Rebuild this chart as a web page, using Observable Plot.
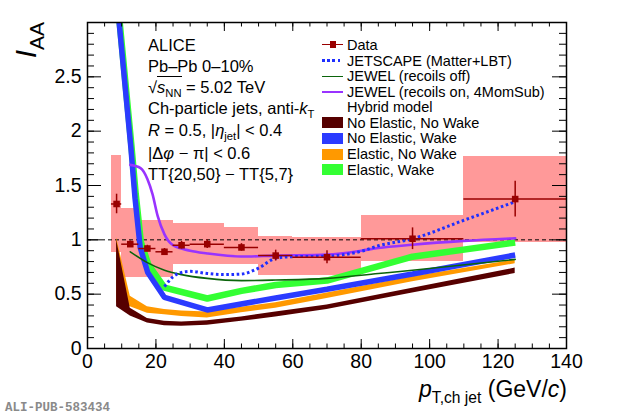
<!DOCTYPE html>
<html><head><meta charset="utf-8">
<script src="https://cdn.jsdelivr.net/npm/d3@7"></script>
<script src="https://cdn.jsdelivr.net/npm/@observablehq/plot@0.6"></script>
<style>
body{margin:0;background:#fff;}
#wrap{position:relative;width:620px;height:417px;overflow:hidden;font-family:"Liberation Sans",Arial,Helvetica,sans-serif;color:#000;}
#wrap svg{position:absolute;left:0;top:0;}
.t{position:absolute;white-space:nowrap;height:20px;line-height:20px;font-size:16.5px;left:148px;}
.lg{position:absolute;white-space:nowrap;height:16px;line-height:16px;font-size:14.5px;left:347px;}
.sw{position:absolute;left:322px;width:21px;}
.sub{font-size:0.68em;position:relative;top:0.38em;}
</style></head><body><div id="wrap"></div>
<script>
// ---- data: ALICE I_AA vs pT,ch jet ----
const binLo   = [7, 10, 15, 20, 25, 30, 40, 50, 60, 80, 110];
const binHi   = [10, 15, 20, 25, 30, 40, 50, 60, 80, 110, 140];
const ptCenter= [8.5, 12.5, 17.5, 22.5, 27.5, 35, 45, 55, 70, 95, 125];
const iaa     = [1.33, 0.96, 0.92, 0.89, 0.95, 0.96, 0.93, 0.855, 0.84, 1.01, 1.375];
const statErr = [0.09, 0.03, 0.03, 0.03, 0.035, 0.04, 0.035, 0.05, 0.06, 0.1, 0.165];
const systLo  = [0.88, 0.65, 0.65, 0.65, 0.77, 0.77, 0.77, 0.67, 0.67, 0.80, 0.98];
const systHi  = [1.775, 1.285, 1.18, 1.18, 1.15, 1.15, 1.11, 1.035, 1.02, 1.22, 1.77];

// Hybrid model bands
const hybX    = [8.5, 12.5, 17.5, 22.5, 27.5, 35, 45, 55, 70, 95, 125];
const nenwLo  = [0.385, 0.30, 0.235, 0.21, 0.205, 0.215, 0.25, 0.29, 0.36, 0.51, 0.69];
const nenwHi  = [1.00, 0.37, 0.275, 0.25, 0.245, 0.255, 0.29, 0.335, 0.40, 0.555, 0.74];
const enwLo   = [0.42, 0.385, 0.325, 0.31, 0.295, 0.28, 0.33, 0.37, 0.46, 0.615, 0.78];
const enwHi   = [1.02, 0.48, 0.385, 0.36, 0.345, 0.335, 0.38, 0.42, 0.51, 0.66, 0.815];
const newX    = [8.5, 12.7, 13.9, 15.4, 17.6, 22.5, 35, 55, 70, 95, 125];
const newY    = [3.25, 1.84, 1.38, 0.93, 0.70, 0.47, 0.355, 0.465, 0.545, 0.685, 0.86];
const ewX     = [8.5, 12.8, 14.1, 15.6, 17.8, 22.5, 35, 45, 55, 70, 95, 125];
const ewY     = [3.3, 1.88, 1.42, 0.98, 0.77, 0.56, 0.46, 0.53, 0.585, 0.625, 0.845, 0.975];

// JEWEL / JETSCAPE curves
const jOffX = [12.5, 17.5, 22.5, 27.5, 35, 45, 55, 70, 85, 95, 125];
const jOffY = [0.89, 0.79, 0.72, 0.68, 0.645, 0.625, 0.63, 0.645, 0.69, 0.72, 0.82];
const jOnX  = [12.5, 15.5, 17.5, 19, 20.5, 22.5, 25, 30, 35, 45, 55, 70, 80, 85, 95, 110, 125];
const jOnY  = [1.69, 1.66, 1.56, 1.42, 1.22, 1.05, 0.95, 0.90, 0.875, 0.846, 0.855, 0.865, 0.90, 0.925, 0.955, 0.99, 1.015];
const jsX   = [22.5, 25, 27.5, 30, 35, 40, 45, 50, 55, 60, 70, 80, 85, 95, 110, 125];
const jsY   = [0.57, 0.66, 0.70, 0.71, 0.69, 0.68, 0.685, 0.74, 0.83, 0.845, 0.85, 0.895, 0.945, 1.01, 1.18, 1.35];

// axis ticks
const xMajor = [0, 20, 40, 60, 80, 100, 120, 140];
const xMinor = d3.range(0, 29).map(i => i * 5);
const yMajor = [0, 0.5, 1, 1.5, 2, 2.5];
const yMinor = d3.range(0, 31).map(i => i / 10);

// ---- tables ----
const points = ptCenter.map((x, i) => ({x, y: iaa[i], lo: binLo[i], hi: binHi[i], e: statErr[i], sl: systLo[i], sh: systHi[i]}));
const band = (lo, hi) => hybX.map((x, i) => ({x, lo: lo[i], hi: hi[i]}));
const curve = (xs, ys) => xs.map((x, i) => ({x, y: ys[i]}));

const C = {data: "#990000", pink: "#ff9999", brown: "#560000", blue: "#2b3bff", orange: "#ff9900", green: "#33ff33", jgreen: "#0b640b", purple: "#9933ff", js: "#1f2fff"};

const innerW = 620 - 87 - 54, innerH = 417 - 22 - 69;

const plot = Plot.plot({
  width: 620, height: 417,
  marginLeft: 87, marginRight: 54, marginTop: 22, marginBottom: 69,
  x: {domain: [0, 140], label: null},
  y: {domain: [0, 3], label: null},
  style: {fontFamily: "Liberation Sans, Arial, sans-serif", background: "transparent", overflow: "visible"},
  marks: [
    Plot.rect(points, {x1: "lo", x2: "hi", y1: "sl", y2: "sh", fill: C.pink, shapeRendering: "crispEdges"}),
    Plot.ruleY([1], {stroke: "black", strokeWidth: 1, strokeDasharray: "4,3"}),
    // Hybrid: Elastic, Wake (green)
    Plot.line(curve(ewX, ewY), {x: "x", y: "y", stroke: C.green, strokeWidth: 6.5, strokeLinecap: "butt", strokeLinejoin: "miter", clip: true}),
    // Elastic, No Wake (orange)
    Plot.areaY(band(enwLo, enwHi), {x: "x", y1: "lo", y2: "hi", fill: C.orange, clip: true}),
    // No Elastic, Wake (blue)
    Plot.line(curve(newX, newY), {x: "x", y: "y", stroke: C.blue, strokeWidth: 5.5, strokeLinecap: "butt", strokeLinejoin: "miter", clip: true}),
    // No Elastic, No Wake (brown)
    Plot.areaY(band(nenwLo, nenwHi), {x: "x", y1: "lo", y2: "hi", fill: C.brown, clip: true}),
    // JEWEL
    Plot.line(curve(jOffX, jOffY), {x: "x", y: "y", stroke: C.jgreen, strokeWidth: 1.6, curve: "monotone-x"}),
    Plot.line(curve(jOnX, jOnY), {x: "x", y: "y", stroke: C.purple, strokeWidth: 2.6, curve: "monotone-x"}),
    // JETSCAPE
    Plot.line(curve(jsX, jsY), {x: "x", y: "y", stroke: C.js, strokeWidth: 3, strokeDasharray: "2.6,2.6", strokeLinecap: "butt", curve: "monotone-x"}),
    // data
    Plot.ruleY(points, {y: "y", x1: "lo", x2: "hi", stroke: C.data, strokeWidth: 1.5}),
    Plot.ruleX(points, {x: "x", y1: d => d.y - d.e, y2: d => d.y + d.e, stroke: C.data, strokeWidth: 1.5}),
    Plot.dot(points, {x: "x", y: "y", symbol: "square", r: 3.7, fill: C.data, stroke: null}),
    // ticks (inward, all four sides)
    Plot.tickX(xMajor, {x: d => d, insetTop: innerH - 9, stroke: "black", strokeWidth: 1}),
    Plot.tickX(xMinor, {x: d => d, insetTop: innerH - 4.5, stroke: "black", strokeWidth: 1}),
    Plot.tickX(xMajor, {x: d => d, insetBottom: innerH - 9, stroke: "black", strokeWidth: 1}),
    Plot.tickX(xMinor, {x: d => d, insetBottom: innerH - 4.5, stroke: "black", strokeWidth: 1}),
    Plot.tickY(yMajor, {y: d => d, insetRight: innerW - 14, stroke: "black", strokeWidth: 1}),
    Plot.tickY(yMinor, {y: d => d, insetRight: innerW - 7, stroke: "black", strokeWidth: 1}),
    Plot.tickY(yMajor, {y: d => d, insetLeft: innerW - 14, stroke: "black", strokeWidth: 1}),
    Plot.tickY(yMinor, {y: d => d, insetLeft: innerW - 7, stroke: "black", strokeWidth: 1}),
    Plot.frame({stroke: "black", strokeWidth: 1.5}),
    Plot.axisX(xMajor, {anchor: "bottom", tickSize: 0, tickPadding: 6, fontSize: 19.5, tickFormat: d => String(d), label: null}),
    Plot.axisY(yMajor, {anchor: "left", tickSize: 0, tickPadding: 6, fontSize: 19.5, tickFormat: d => String(d), label: null})
  ]
});

const wrap = document.getElementById("wrap");
wrap.appendChild(plot);

// ---- text overlays ----
const leftLines = [
  [45, "ALICE"],
  [65.5, "Pb–Pb 0–10%"],
  [86.5, '<span>√</span><span style="border-top:1.3px solid #000;padding-top:1px"><i>s</i><span class="sub">NN</span></span> = 5.02 TeV'],
  [108, 'Ch-particle jets, anti-<i>k</i><span class="sub">T</span>'],
  [129.5, '<i>R</i> = 0.5, |<i>η</i><span class="sub">jet</span>| &lt; 0.4'],
  [153, '|Δ<i>φ</i> − π| &lt; 0.6'],
  [174, 'TT{20,50} − TT{5,7}']
];
for (const [yc, html] of leftLines) {
  const d = document.createElement("div");
  d.className = "t"; d.style.top = (yc - 10) + "px"; d.innerHTML = html;
  wrap.appendChild(d);
}

const legend = [
  [44.7, "Data", "data"],
  [60.8, "JETSCAPE (Matter+LBT)", "js"],
  [76.3, "JEWEL (recoils off)", "jgreen"],
  [92, "JEWEL (recoils on, 4MomSub)", "purple"],
  [107.3, "Hybrid model", null],
  [122.5, "No Elastic, No Wake", "brown"],
  [138.3, "No Elastic, Wake", "blue"],
  [154, "Elastic, No Wake", "orange"],
  [169.5, "Elastic, Wake", "green"]
];
for (const [yc, label, key] of legend) {
  const d = document.createElement("div");
  d.className = "lg"; d.style.top = (yc - 8) + "px"; d.textContent = label;
  wrap.appendChild(d);
  if (!key) continue;
  const s = document.createElement("div");
  s.className = "sw";
  if (key === "data") {
    s.style.top = (yc - 0.75) + "px"; s.style.height = "1.5px"; s.style.background = C.data;
    const m = document.createElement("div");
    m.style.cssText = `position:absolute;left:7.5px;top:-2.5px;width:6.5px;height:6.5px;background:${C.data}`;
    s.appendChild(m);
  } else if (key === "js") {
    s.style.top = (yc - 1.5) + "px"; s.style.height = "3px";
    s.style.background = `repeating-linear-gradient(to right, ${C.js} 0 2.6px, transparent 2.6px 5.2px)`;
  } else if (key === "jgreen") {
    s.style.top = (yc - 0.8) + "px"; s.style.height = "1.6px"; s.style.background = C.jgreen;
  } else if (key === "purple") {
    s.style.top = (yc - 1.3) + "px"; s.style.height = "2.6px"; s.style.background = C.purple;
  } else {
    s.style.top = (yc - 5.5) + "px"; s.style.height = "11px"; s.style.background = C[key];
  }
  wrap.appendChild(s);
}

// axis titles
const xt = document.createElement("div");
xt.style.cssText = "position:absolute;right:53px;top:377px;height:24px;line-height:24px;font-size:23px;white-space:nowrap;";
xt.innerHTML = '<i>p</i><span class="sub" style="font-size:0.68em">T,ch jet</span> (GeV/<i>c</i>)';
wrap.appendChild(xt);

const yt = document.createElement("div");
yt.style.cssText = "position:absolute;right:611px;top:22px;height:34px;line-height:34px;font-size:30px;white-space:nowrap;transform-origin:100% 0;transform:rotate(-90deg);";
yt.innerHTML = '<i>I</i><span class="sub" style="font-size:0.7em">AA</span>';
wrap.appendChild(yt);

const tag = document.createElement("div");
tag.style.cssText = 'position:absolute;left:5px;top:401px;font:bold 12.5px "Liberation Mono","DejaVu Sans Mono",monospace;color:#8a8a8a;white-space:nowrap;';
tag.textContent = "ALI-PUB-583434";
wrap.appendChild(tag);
</script></body></html>
